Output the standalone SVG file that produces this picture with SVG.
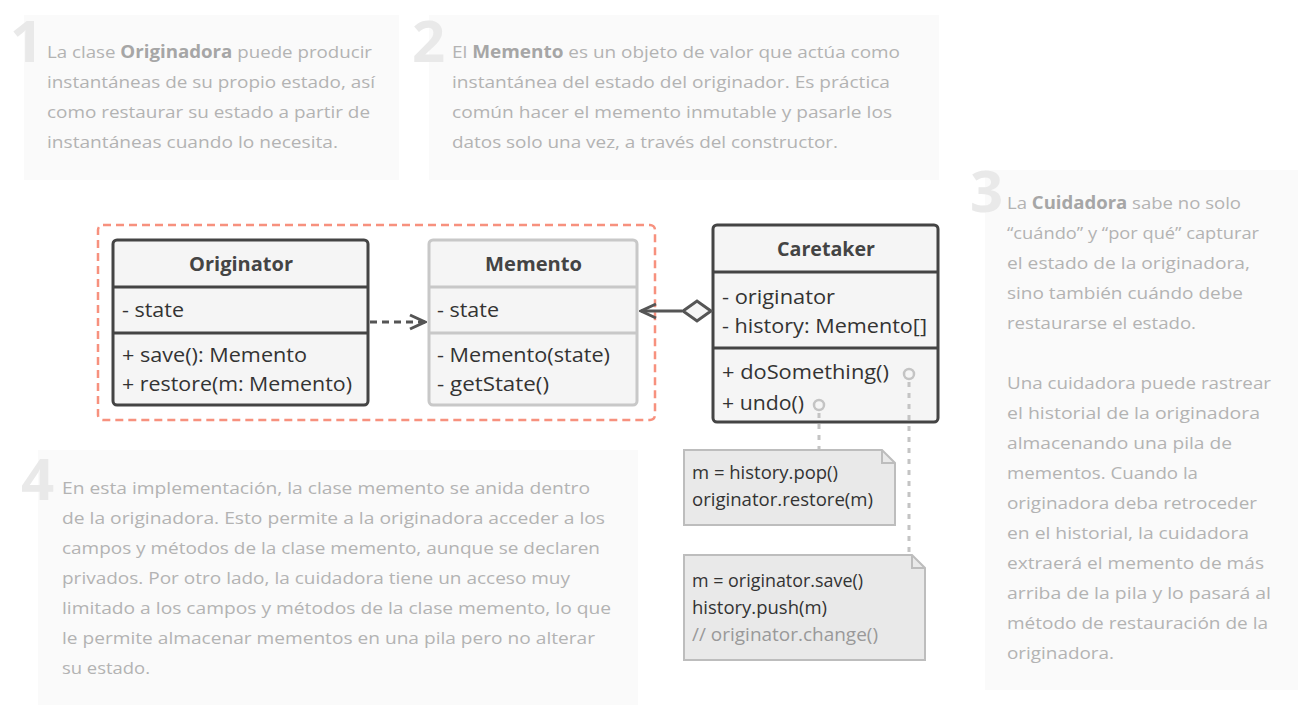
<svg xmlns="http://www.w3.org/2000/svg" width="1306" height="721" viewBox="0 0 1306 721">
<defs>
<style>
.bg{fill:#fafafa}
.num{font-family:"Open Sans","Noto Sans",sans-serif;font-weight:700;font-size:58px;fill:#e9e9e9}
.nt{font-family:"Open Sans","Noto Sans",sans-serif;font-size:17px;fill:#b3b3b3}
.nt tspan.b{font-weight:700;fill:#a6a6a6}
.box{fill:#f5f5f5;stroke:#444;stroke-width:3}
.boxl{fill:#f5f5f5;stroke:#c8c8c8;stroke-width:3}
.ut{font-family:"Open Sans","Noto Sans",sans-serif;font-size:20px;fill:#333}
.uh{font-family:"Open Sans","Noto Sans",sans-serif;font-size:20px;font-weight:700;fill:#444;text-anchor:middle}
.note{fill:#e9e9e9;stroke:#bdbdbd;stroke-width:2}
.ct{font-family:"Open Sans","Noto Sans",sans-serif;font-size:18.5px;fill:#333}
.ct.cm{fill:#999}
.line{fill:none;stroke:#555;stroke-width:3}
.dot{fill:none;stroke:#c4c4c4;stroke-width:3;stroke-dasharray:5 6}
</style>
<marker id="open" viewBox="0 0 20 20" refX="18" refY="10" markerWidth="20" markerHeight="20" markerUnits="userSpaceOnUse" orient="auto">
<path d="M3,3 L18,10 L3,17" fill="none" stroke="#555" stroke-width="3"/>
</marker>
</defs>
<rect width="1306" height="721" fill="#fff"/>

<g id="note1">
<rect class="bg" x="24" y="15" width="375" height="165"/>
<text class="num" x="10" y="62">1</text>
<text class="nt" x="47" y="58" textLength="325" lengthAdjust="spacingAndGlyphs">La clase <tspan class="b">Originadora</tspan> puede producir</text>
<text class="nt" x="47" y="88" textLength="328" lengthAdjust="spacingAndGlyphs">instantáneas de su propio estado, así</text>
<text class="nt" x="47" y="118" textLength="323" lengthAdjust="spacingAndGlyphs">como restaurar su estado a partir de</text>
<text class="nt" x="47" y="148" textLength="291" lengthAdjust="spacingAndGlyphs">instantáneas cuando lo necesita.</text>
</g>

<g id="note2">
<rect class="bg" x="429" y="15" width="510" height="165"/>
<text class="num" x="412" y="62">2</text>
<text class="nt" x="452" y="58" textLength="448" lengthAdjust="spacingAndGlyphs">El <tspan class="b">Memento</tspan> es un objeto de valor que actúa como</text>
<text class="nt" x="452" y="88" textLength="438" lengthAdjust="spacingAndGlyphs">instantánea del estado del originador. Es práctica</text>
<text class="nt" x="452" y="118" textLength="440" lengthAdjust="spacingAndGlyphs">común hacer el memento inmutable y pasarle los</text>
<text class="nt" x="452" y="148" textLength="386" lengthAdjust="spacingAndGlyphs">datos solo una vez, a través del constructor.</text>
</g>

<g id="note3">
<rect class="bg" x="985" y="170" width="313" height="520"/>
<text class="num" x="970" y="212">3</text>
<text class="nt" x="1007" y="209" textLength="234" lengthAdjust="spacingAndGlyphs">La <tspan class="b">Cuidadora</tspan> sabe no solo</text>
<text class="nt" x="1007" y="239" textLength="252" lengthAdjust="spacingAndGlyphs">“cuándo” y “por qué” capturar</text>
<text class="nt" x="1007" y="269" textLength="243" lengthAdjust="spacingAndGlyphs">el estado de la originadora,</text>
<text class="nt" x="1007" y="299" textLength="236" lengthAdjust="spacingAndGlyphs">sino también cuándo debe</text>
<text class="nt" x="1007" y="329" textLength="189" lengthAdjust="spacingAndGlyphs">restaurarse el estado.</text>
<text class="nt" x="1007" y="389" textLength="264" lengthAdjust="spacingAndGlyphs">Una cuidadora puede rastrear</text>
<text class="nt" x="1007" y="419" textLength="253" lengthAdjust="spacingAndGlyphs">el historial de la originadora</text>
<text class="nt" x="1007" y="449" textLength="225" lengthAdjust="spacingAndGlyphs">almacenando una pila de</text>
<text class="nt" x="1007" y="479" textLength="191" lengthAdjust="spacingAndGlyphs">mementos. Cuando la</text>
<text class="nt" x="1007" y="509" textLength="250" lengthAdjust="spacingAndGlyphs">originadora deba retroceder</text>
<text class="nt" x="1007" y="539" textLength="242" lengthAdjust="spacingAndGlyphs">en el historial, la cuidadora</text>
<text class="nt" x="1007" y="569" textLength="257" lengthAdjust="spacingAndGlyphs">extraerá el memento de más</text>
<text class="nt" x="1007" y="599" textLength="264" lengthAdjust="spacingAndGlyphs">arriba de la pila y lo pasará al</text>
<text class="nt" x="1007" y="629" textLength="261" lengthAdjust="spacingAndGlyphs">método de restauración de la</text>
<text class="nt" x="1007" y="659" textLength="107" lengthAdjust="spacingAndGlyphs">originadora.</text>
</g>

<g id="note4">
<rect class="bg" x="38" y="450" width="600" height="255"/>
<text class="num" x="21" y="500">4</text>
<text class="nt" x="62" y="494" textLength="528" lengthAdjust="spacingAndGlyphs">En esta implementación, la clase memento se anida dentro</text>
<text class="nt" x="62" y="524" textLength="543" lengthAdjust="spacingAndGlyphs">de la originadora. Esto permite a la originadora acceder a los</text>
<text class="nt" x="62" y="554" textLength="538" lengthAdjust="spacingAndGlyphs">campos y métodos de la clase memento, aunque se declaren</text>
<text class="nt" x="62" y="584" textLength="508" lengthAdjust="spacingAndGlyphs">privados. Por otro lado, la cuidadora tiene un acceso muy</text>
<text class="nt" x="62" y="614" textLength="549" lengthAdjust="spacingAndGlyphs">limitado a los campos y métodos de la clase memento, lo que</text>
<text class="nt" x="62" y="644" textLength="533" lengthAdjust="spacingAndGlyphs">le permite almacenar mementos en una pila pero no alterar</text>
<text class="nt" x="62" y="674" textLength="88" lengthAdjust="spacingAndGlyphs">su estado.</text>
</g>

<g id="frame">
<rect x="98" y="225" width="557" height="195" rx="5" fill="none" stroke="#f7917e" stroke-width="2.5" stroke-dasharray="8 5"/>
</g>

<g id="originator">
<rect class="box" x="113" y="240" width="255" height="165" rx="4"/>
<line x1="113" y1="287" x2="368" y2="287" stroke="#444" stroke-width="3"/>
<line x1="113" y1="333" x2="368" y2="333" stroke="#444" stroke-width="3"/>
<text class="uh" x="241" y="271" textLength="104" lengthAdjust="spacingAndGlyphs">Originator</text>
<text class="ut" x="122" y="317" textLength="62" lengthAdjust="spacingAndGlyphs">- state</text>
<text class="ut" x="122" y="362" textLength="185" lengthAdjust="spacingAndGlyphs">+ save(): Memento</text>
<text class="ut" x="122" y="391" textLength="230" lengthAdjust="spacingAndGlyphs">+ restore(m: Memento)</text>
</g>

<g id="memento">
<rect class="boxl" x="429" y="240" width="208" height="165" rx="4"/>
<line x1="429" y1="287" x2="637" y2="287" stroke="#c8c8c8" stroke-width="3"/>
<line x1="429" y1="333" x2="637" y2="333" stroke="#c8c8c8" stroke-width="3"/>
<text class="uh" x="533.5" y="271" textLength="97" lengthAdjust="spacingAndGlyphs">Memento</text>
<text class="ut" x="437" y="317" textLength="62" lengthAdjust="spacingAndGlyphs">- state</text>
<text class="ut" x="437" y="362" textLength="173" lengthAdjust="spacingAndGlyphs">- Memento(state)</text>
<text class="ut" x="437" y="391" textLength="112" lengthAdjust="spacingAndGlyphs">- getState()</text>
</g>

<g id="caretaker">
<rect class="box" x="713" y="225" width="225" height="197" rx="4"/>
<line x1="713" y1="272" x2="938" y2="272" stroke="#444" stroke-width="3"/>
<line x1="713" y1="348" x2="938" y2="348" stroke="#444" stroke-width="3"/>
<text class="uh" x="826" y="256" textLength="98" lengthAdjust="spacingAndGlyphs">Caretaker</text>
<text class="ut" x="722" y="304" textLength="113" lengthAdjust="spacingAndGlyphs">- originator</text>
<text class="ut" x="722" y="333" textLength="205" lengthAdjust="spacingAndGlyphs">- history: Memento[]</text>
<text class="ut" x="722" y="379" textLength="167" lengthAdjust="spacingAndGlyphs">+ doSomething()</text>
<text class="ut" x="722" y="410" textLength="82" lengthAdjust="spacingAndGlyphs">+ undo()</text>
<circle cx="909" cy="374" r="5" fill="none" stroke="#c4c4c4" stroke-width="2.5"/>
<circle cx="819" cy="405" r="5" fill="none" stroke="#c4c4c4" stroke-width="2.5"/>
</g>

<g id="noteUndo">
<path class="note" d="M684,450 H882 L895,463 V525 H684 Z"/>
<path d="M882,450 V463 H895" fill="none" stroke="#bdbdbd" stroke-width="2"/>
<text class="ct" x="692" y="479" textLength="146" lengthAdjust="spacingAndGlyphs">m = history.pop()</text>
<text class="ct" x="692" y="506" textLength="181" lengthAdjust="spacingAndGlyphs">originator.restore(m)</text>
</g>

<g id="noteDo">
<path class="note" d="M684,555 H912 L925,568 V660 H684 Z"/>
<path d="M912,555 V568 H925" fill="none" stroke="#bdbdbd" stroke-width="2"/>
<text class="ct" x="692" y="587" textLength="171" lengthAdjust="spacingAndGlyphs">m = originator.save()</text>
<text class="ct" x="692" y="614" textLength="135" lengthAdjust="spacingAndGlyphs">history.push(m)</text>
<text class="ct cm" x="692" y="641" textLength="186" lengthAdjust="spacingAndGlyphs">// originator.change()</text>
</g>

<g id="connectors">
<line class="line" x1="370" y1="322" x2="425" y2="322" stroke-dasharray="7 5" marker-end="url(#open)"/>
<line class="line" x1="682" y1="311" x2="641" y2="311" marker-end="url(#open)"/>
<path d="M711,311 L697,301 L683,311 L697,321 Z" fill="#f5f5f5" stroke="#555" stroke-width="3"/>
<line class="dot" x1="819" y1="413" x2="819" y2="449"/>
<line class="dot" x1="909" y1="382" x2="909" y2="554"/>
</g>
</svg>
